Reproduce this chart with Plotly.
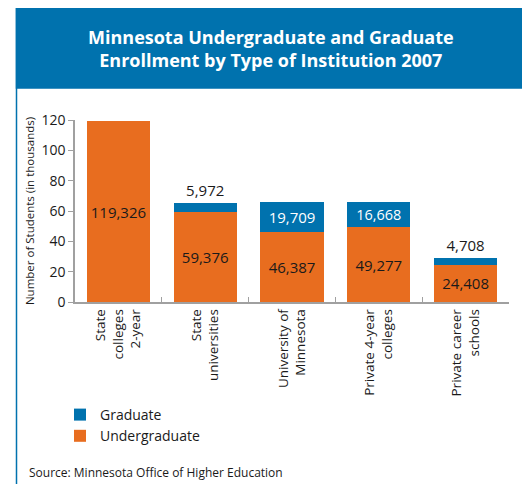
import plotly.graph_objects as go

categories = ["State<br>colleges<br>2-year", "State<br>universities", "University of<br>Minnesota",
              "Private 4-year<br>colleges", "Private career<br>schools"]
undergraduate = [119326, 59376, 46387, 49277, 24408]
graduate = [0, 5972, 19709, 16668, 4708]
y_ticks = [0, 20, 40, 60, 80, 100, 120]

ORANGE = "#E86D1F"
BLUE = "#0072AE"
FONT = "Open Sans"

OFF = 8  # page offset of the figure inside the browser window
W, H = 530 - OFF, 484 - OFF
# plot area in window pixels: x 75..509, y 120..302
L, R, T, B = 75 - OFF, 530 - 509, 120 - OFF, 484 - 302
pw, ph = W - L - R, H - T - B


def px(x):
    return (x - OFF - L) / pw


def py(y):
    return (H - B - (y - OFF)) / ph


fig = go.Figure()
fig.add_trace(go.Bar(
    x=categories, y=[v / 1000 for v in undergraduate], name="Undergraduate",
    marker=dict(color=ORANGE, line=dict(width=0)),
    text=[f"{v:,}" for v in undergraduate], textposition="inside", insidetextanchor="middle",
    textfont=dict(color="#1a1a1a", size=15, family=FONT),
))
g_pos = ["none" if v == 0 else ("inside" if v > 10000 else "outside") for v in graduate]
g_col = ["white" if v > 10000 else "#1a1a1a" for v in graduate]
fig.add_trace(go.Bar(
    x=categories, y=[v / 1000 for v in graduate], name="Graduate",
    marker=dict(color=BLUE, line=dict(width=0)),
    text=[f"{v:,}" if v else "" for v in graduate], textposition=g_pos, insidetextanchor="middle",
    textfont=dict(color=g_col, size=15, family=FONT),
    cliponaxis=False,
))

fig.update_layout(
    width=W, height=H, barmode="stack", bargap=0.27,
    margin=dict(l=L, r=R, t=T, b=B, autoexpand=False),
    paper_bgcolor="white", plot_bgcolor="white",
    font=dict(family=FONT, color="#1a1a1a", size=13),
    showlegend=True,
    legend=dict(x=px(60), y=py(399), xanchor="left", yanchor="top", traceorder="reversed",
                font=dict(size=14, family=FONT), itemwidth=30, tracegroupgap=0,
                bgcolor="rgba(0,0,0,0)"),
    xaxis=dict(showline=True, linecolor="#a0a0a0", linewidth=1.5, tickson="boundaries",
               ticks="inside", ticklen=5, tickcolor="#a0a0a0", tickangle=-90, automargin=False,
               tickfont=dict(size=13.5, family=FONT)),
    yaxis=dict(range=[0, 120], tickvals=y_ticks, showgrid=False, zeroline=False, automargin=False,
               showline=True, linecolor="#a0a0a0", linewidth=1.5, ticks="outside", ticklen=5,
               tickcolor="#a0a0a0", tickfont=dict(size=14, family=FONT),
               title=dict(text="Number of Students (in thousands)", font=dict(size=11.5, family=FONT),
                          standoff=4)),
)

# frame and title band
fig.add_shape(type="rect", xref="paper", yref="paper", x0=px(16.5), x1=px(524), y0=py(500), y1=py(8),
              line=dict(color=BLUE, width=1.5), fillcolor="rgba(0,0,0,0)", layer="below")
fig.add_shape(type="rect", xref="paper", yref="paper", x0=px(16.5), x1=px(524), y0=py(88), y1=py(8),
              line=dict(color=BLUE, width=1.5), fillcolor=BLUE, layer="below")
fig.add_annotation(xref="paper", yref="paper", x=px(271), y=py(48), xanchor="center", yanchor="middle",
                   text="<b>Minnesota Undergraduate and Graduate<br>Enrollment by Type of Institution 2007</b>",
                   showarrow=False, font=dict(color="white", size=18, family=FONT), align="center")
fig.add_annotation(xref="paper", yref="paper", x=px(27), y=py(472), xanchor="left", yanchor="middle",
                   text="Source: Minnesota Office of Higher Education", showarrow=False,
                   font=dict(size=12, family=FONT, color="#1a1a1a"))

fig.write_html("out.html")
